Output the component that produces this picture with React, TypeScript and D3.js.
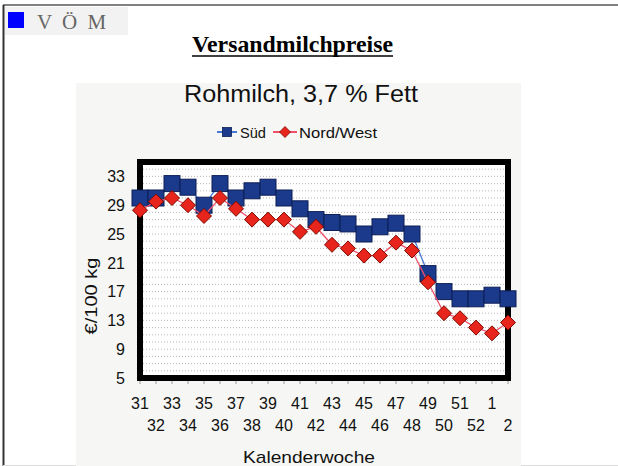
import * as d3 from "d3";

// Kalenderwochen 31..52, 1, 2
const weeks = ["31","32","33","34","35","36","37","38","39","40","41","42","43","44","45","46","47","48","49","50","51","52","1","2"];
const sued = [30, 30, 32, 31.5, 29, 32, 30, 31, 31.5, 30, 28.5, 27, 26.6, 26.4, 25, 26, 26.5, 25, 19.5, 17, 16, 16, 16.5, 16];
const nordWest = [28.3, 29.5, 30, 29, 27.5, 30, 28.5, 27, 27, 27, 25.3, 26, 23.5, 23, 22, 22, 23.8, 22.7, 18.3, 14, 13.3, 12, 11.2, 12.7];
const yTicks = [5, 9, 13, 17, 21, 25, 29, 33];

const W = 618;
const H = 466;
const left = 140, right = 508, top = 162, bottom = 378;
const sans = "'Liberation Sans', Arial, sans-serif";
const serif = "'Liberation Serif', 'Times New Roman', serif";

export default function App() {
  const x = d3.scalePoint<string>().domain(weeks).range([left, right]);
  const y = d3.scaleLinear().domain([5, 35]).range([bottom, top]);
  const grid = d3.range(6, 35);

  const line = d3
    .line<number>()
    .x((_, i) => x(weeks[i]) as number)
    .y((d) => y(d));

  const diamond = (cx: number, cy: number, r: number) =>
    `M${cx},${cy - r}L${cx + r},${cy}L${cx},${cy + r}L${cx - r},${cy}Z`;

  return (
    <svg width={W} height={H} style={{ position: "absolute", left: 0, top: 0 }}>
      <rect width={W} height={H} fill="#fff" />
      {/* Seitenrahmen */}
      <line x1={3} x2={W} y1={5} y2={5} stroke="#808080" strokeWidth={2} />
      <line x1={3.5} x2={3.5} y1={5} y2={H} stroke="#333" strokeWidth={2} />
      <line x1={3} x2={W} y1={465.5} y2={465.5} stroke="#ddd" strokeWidth={1} />

      {/* Kopf */}
      <rect x={5} y={7} width={123} height={28} fill="#f2f2f2" />
      <rect x={8} y={12} width={16} height={16} fill="#0000ff" />
      <text x={37} y={29} fontFamily={serif} fontSize={21} fill="#666" letterSpacing={2.5}>
        V Ö M
      </text>
      <text x={292.5} y={52} textAnchor="middle" fontFamily={serif} fontSize={23} fontWeight="bold" fill="#000" textLength={201} lengthAdjust="spacingAndGlyphs">
        Versandmilchpreise
      </text>
      <line x1={192} x2={393} y1={56} y2={56} stroke="#000" strokeWidth={1.6} />

      {/* Diagrammbild */}
      <rect x={76} y={83} width={445} height={383} fill="#f6f6f4" />
      <text x={301} y={102} textAnchor="middle" fontFamily={sans} fontSize={23} fill="#111" textLength={234} lengthAdjust="spacingAndGlyphs">
        Rohmilch, 3,7 % Fett
      </text>

      {/* Legende */}
      <line x1={217} x2={237} y1={132} y2={132} stroke="#4a78d6" strokeWidth={2} />
      <rect x={222.5} y={127.5} width={9} height={9} fill="#1b3a8c" stroke="#0d1f55" strokeWidth={0.8} />
      <text x={240} y={137.5} fontFamily={sans} fontSize={15} fill="#111" textLength={26} lengthAdjust="spacingAndGlyphs">
        Süd
      </text>
      <line x1={273} x2={297} y1={132} y2={132} stroke="#f0506a" strokeWidth={2} />
      <path d={diamond(285, 132, 5.5)} fill="#e8251c" stroke="#7a0a00" strokeWidth={0.8} />
      <text x={299} y={137.5} fontFamily={sans} fontSize={15} fill="#111" textLength={78} lengthAdjust="spacingAndGlyphs">
        Nord/West
      </text>

      {/* Plotfläche */}
      <rect x={left} y={top} width={right - left} height={bottom - top} fill="#fff" />
      {grid.map((g) => (
        <line key={g} x1={left} x2={right} y1={y(g)} y2={y(g)} stroke="#b8b8b8" strokeWidth={1} strokeDasharray="1,2" />
      ))}
      {weeks.map((w) => (
        <line key={"t" + w} x1={x(w)} x2={x(w)} y1={bottom + 3} y2={bottom + 6} stroke="#999" strokeWidth={1} />
      ))}
      <rect x={left} y={top} width={right - left} height={bottom - top} fill="none" stroke="#000" strokeWidth={6} />

      {/* Süd */}
      <path d={line(sued) ?? ""} fill="none" stroke="#4a78d6" strokeWidth={1.3} />
      {sued.map((v, i) => (
        <rect key={"s" + i} x={(x(weeks[i]) as number) - 8} y={y(v) - 8} width={16} height={16} fill="#1b3a8c" stroke="#0d1f55" strokeWidth={1} />
      ))}

      {/* Nord/West */}
      <path d={line(nordWest) ?? ""} fill="none" stroke="#f0506a" strokeWidth={1.3} />
      {nordWest.map((v, i) => (
        <path key={"n" + i} d={diamond(x(weeks[i]) as number, y(v), 7.5)} fill="#e8251c" stroke="#7a0a00" strokeWidth={1} />
      ))}

      {/* Achsen */}
      {yTicks.map((t) => (
        <text key={"y" + t} x={125} y={y(t)} dy="0.36em" textAnchor="end" fontFamily={sans} fontSize={16} fill="#111">
          {t}
        </text>
      ))}
      {weeks.map((w, i) => (
        <text key={"x" + w} x={x(w)} y={i % 2 === 0 ? 409 : 431} textAnchor="middle" fontFamily={sans} fontSize={16} fill="#111">
          {w}
        </text>
      ))}
      <text x={309} y={463} textAnchor="middle" fontFamily={sans} fontSize={17} fill="#111" textLength={132} lengthAdjust="spacingAndGlyphs">
        Kalenderwoche
      </text>
      <text transform="translate(97,296) rotate(-90)" textAnchor="middle" fontFamily={sans} fontSize={17} fill="#111" textLength={77} lengthAdjust="spacingAndGlyphs">
        €/100 kg
      </text>
    </svg>
  );
}
